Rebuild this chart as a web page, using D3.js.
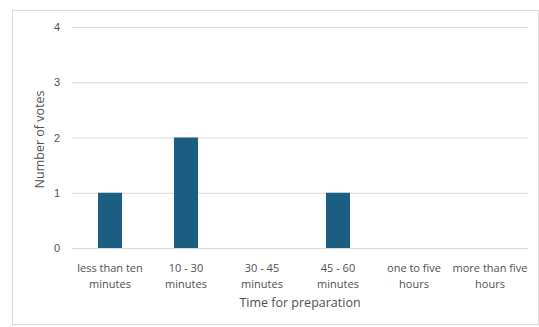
<!DOCTYPE html>
<html>
<head>
<meta charset="utf-8">
<script src="https://cdn.jsdelivr.net/npm/d3@7"></script>
<style>
  html, body { margin: 0; padding: 0; background: #fff; }
  svg { display: block; font-family: "Open Sans", "Noto Sans", sans-serif; }
</style>
</head>
<body>
<svg id="chart" width="539" height="327"></svg>
<script>
// Categories of preparation time and vote counts
const categories = [
  ["less than ten", "minutes"],
  ["10 - 30", "minutes"],
  ["30 - 45", "minutes"],
  ["45 - 60", "minutes"],
  ["one to five", "hours"],
  ["more than five", "hours"]
];
const votes = [1, 2, 0, 1, 0, 0];
const yTicks = [0, 1, 2, 3, 4];

const svg = d3.select("#chart");
const W = 539, H = 327;
const margin = { left: 72, right: 11, top: 27, bottom: 79 };
const textColor = "#505050";

// chart frame
svg.append("rect")
  .attr("x", 12.5).attr("y", 10.5)
  .attr("width", W - 13).attr("height", H - 13)
  .attr("fill", "#fff").attr("stroke", "#d9d9d9").attr("stroke-width", 1);

const x = d3.scaleBand()
  .domain(d3.range(categories.length))
  .range([margin.left, W - margin.right])
  .paddingInner(0).paddingOuter(0);

const y = d3.scaleLinear()
  .domain([0, 4])
  .range([H - margin.bottom, margin.top]);

// horizontal gridlines
const yAxis = d3.axisLeft(y).tickValues(yTicks).tickFormat(d3.format("d"))
  .tickSize(-(W - margin.right - margin.left)).tickPadding(12);
const gy = svg.append("g").attr("transform", `translate(${margin.left},0)`).call(yAxis);
gy.select(".domain").remove();
gy.selectAll(".tick line").attr("stroke", "#d9d9d9");
gy.selectAll(".tick text").attr("fill", textColor).attr("font-size", 11);

// bars
const barW = 24;
svg.append("g").selectAll("rect")
  .data(votes)
  .join("rect")
  .attr("x", (d, i) => x(i) + x.bandwidth() / 2 - barW / 2)
  .attr("width", barW)
  .attr("y", d => y(d))
  .attr("height", d => y(0) - y(d))
  .attr("fill", "#1b5e82");

// category labels
const lab = svg.append("g").attr("fill", textColor).attr("font-size", 11).attr("text-anchor", "middle");
categories.forEach((lines, i) => {
  const t = lab.append("text").attr("x", x(i) + x.bandwidth() / 2);
  lines.forEach((s, k) => {
    t.append("tspan").attr("x", x(i) + x.bandwidth() / 2).attr("y", 272 + k * 16).text(s);
  });
});

// axis titles
svg.append("text")
  .attr("x", (margin.left + W - margin.right) / 2)
  .attr("y", 307)
  .attr("text-anchor", "middle")
  .attr("fill", textColor).attr("font-size", 12.5)
  .text("Time for preparation");

svg.append("text")
  .attr("transform", `translate(44,${(y(0) + y(4)) / 2 + 2}) rotate(-90)`)
  .attr("text-anchor", "middle")
  .attr("fill", textColor).attr("font-size", 12.5)
  .text("Number of votes");
</script>
</body>
</html>
